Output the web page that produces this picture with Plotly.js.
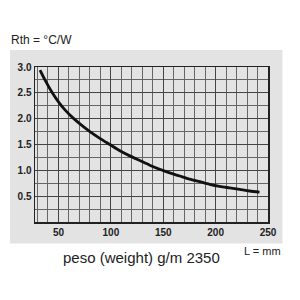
<!DOCTYPE html>
<html>
<head>
<meta charset="utf-8">
<script src="https://cdn.plot.ly/plotly-3.0.1.min.js"></script>
<style>html,body{margin:0;padding:0;background:#fff;}#chart{width:300px;height:300px;}</style>
</head>
<body>
<div id="chart"></div>
<script>
// Length L (mm) and thermal resistance Rth (°C/W)
const lengthMm = [32.4, 37.1, 43.5, 49.8, 56.2, 64.1, 70.5, 80, 89.5, 99, 108.6, 118.1, 127.6, 137.1, 146.7, 156.2, 165.7, 175.2, 184.8, 194.3, 203.8, 213.3, 222.9, 232.4, 241.9];
const rthValues = [2.94, 2.75, 2.52, 2.33, 2.17, 2.01, 1.90, 1.75, 1.62, 1.50, 1.38, 1.28, 1.19, 1.10, 1.02, 0.95, 0.89, 0.83, 0.78, 0.73, 0.69, 0.66, 0.63, 0.60, 0.58];
const xTickVals = [50, 100, 150, 200, 250];
const xTickText = ['50', '100', '150', '200', '250'];
const yTickVals = [0.5, 1.0, 1.5, 2.0, 2.5, 3.0];
const yTickText = ['0.5', '1.0', '1.5', '2.0', '2.5', '3.0'];
const yUnitLabel = 'Rth = °C/W';
const xTitle = 'peso (weight) g/m 2350';
const xUnitLabel = 'L = mm';

const panelGray = '#e3e3e3';
const font = 'Liberation Sans, Arial, sans-serif';

const trace = {
  x: lengthMm, y: rthValues, type: 'scatter', mode: 'lines',
  line: {color: '#111', width: 2.8, shape: 'spline', smoothing: 0.8}, hoverinfo: 'skip'
};

const layout = {
  width: 300, height: 300,
  margin: {l: 35, r: 31.5, t: 67, b: 77.5},
  paper_bgcolor: '#ffffff', plot_bgcolor: panelGray,
  showlegend: false,
  font: {family: font, color: '#222'},
  xaxis: {
    range: [27.6, 250], tickmode: 'array', tickvals: xTickVals, ticktext: xTickText,
    showgrid: true, gridcolor: '#444', gridwidth: 1,
    minor: {tickmode: 'linear', tick0: 0, dtick: 10, showgrid: true, gridcolor: '#666', gridwidth: 1},
    showline: true, mirror: true, linecolor: '#222', linewidth: 1.5,
    ticks: '', zeroline: false,
    tickfont: {family: font, size: 10, color: '#222', weight: 'bold'}
  },
  yaxis: {
    range: [0, 3.0], tickmode: 'array', tickvals: yTickVals, ticktext: yTickText,
    showgrid: true, gridcolor: '#444', gridwidth: 1,
    minor: {tickmode: 'linear', tick0: 0, dtick: 0.25, showgrid: true, gridcolor: '#666', gridwidth: 1},
    showline: true, mirror: true, linecolor: '#222', linewidth: 1.5,
    ticks: '', zeroline: false,
    tickfont: {family: font, size: 10, color: '#222', weight: 'bold'}
  },
  shapes: [{
    type: 'rect', xref: 'paper', yref: 'paper', layer: 'below',
    x0: -0.107, x1: 1.062, y0: -0.138, y1: 1.109,
    fillcolor: panelGray, line: {width: 0}
  }],
  annotations: [
    {text: yUnitLabel, xref: 'paper', yref: 'paper', x: (9 - 35) / 233.5, y: (222.5 - 40) / 155.5,
     xanchor: 'left', yanchor: 'middle', showarrow: false, font: {family: font, size: 12, color: '#222'}},
    {text: xTitle, xref: 'paper', yref: 'paper', x: (142 - 35) / 233.5, y: (222.5 - 258) / 155.5,
     xanchor: 'center', yanchor: 'middle', showarrow: false, font: {family: font, size: 15, color: '#222'}},
    {text: xUnitLabel, xref: 'paper', yref: 'paper', x: (263 - 35) / 233.5, y: (222.5 - 252) / 155.5,
     xanchor: 'center', yanchor: 'middle', showarrow: false, font: {family: font, size: 11, color: '#222'}}
  ]
};

Plotly.newPlot('chart', [trace], layout, {displayModeBar: false, staticPlot: true});
</script>
</body>
</html>
